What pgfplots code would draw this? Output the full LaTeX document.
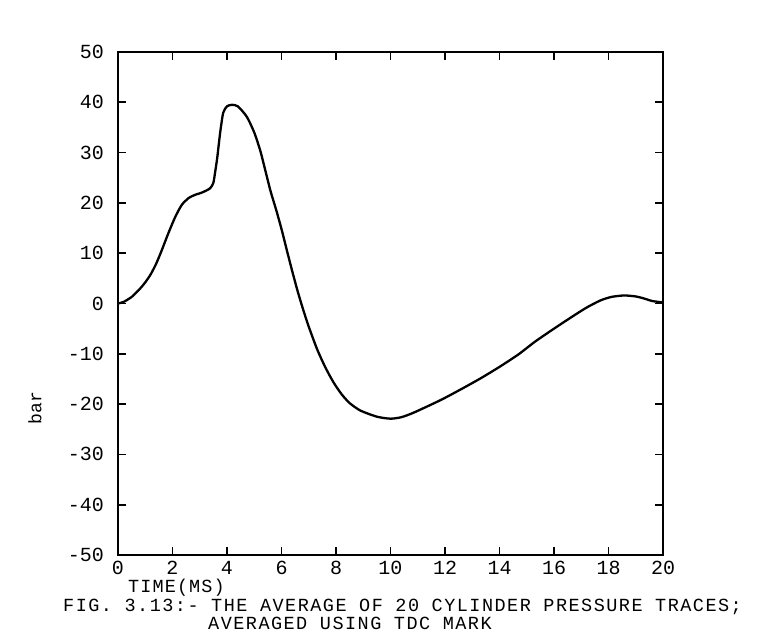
\documentclass[border=0pt]{standalone}
\usepackage{pgfplots}
\pgfplotsset{compat=1.18}
\usepackage{fontspec}
\setmainfont{Liberation Mono}
\begin{document}
\fontsize{20bp}{24bp}\selectfont
\begin{tikzpicture}
\useasboundingbox (-118bp,-78bp) rectangle (643bp,555bp);
\begin{axis}[
  at={(0,0)}, anchor=south west,
  scale only axis, width=545bp, height=503bp,
  xmin=0, xmax=20, ymin=-50, ymax=50,
  xtick={0,2,...,20}, ytick={-50,-40,...,50},
  tick align=inside, major tick length=8bp,
  axis line style={line width=1.8bp},
  every tick/.style={line width=1.8bp, black},
  /pgf/number format/assume math mode=true,
  tick label style={font=\fontsize{20bp}{24bp}\selectfont},
  yticklabel style={inner sep=0pt, anchor=east, xshift=-14bp},
  xticklabel style={inner sep=0pt, anchor=north, yshift=-6bp},
]
\addplot[black, line width=2.3bp, smooth, tension=0.4] coordinates {
(0,0) (0.2,0.3) (0.5,1.3) (0.8,2.9) (1.0,4.2) (1.2,5.8) (1.4,7.9)
(1.6,10.5) (1.85,14.0) (2.1,17.2) (2.34,19.6) (2.6,21.0) (2.83,21.6)
(3.1,22.1) (3.38,22.9) (3.5,24.0) (3.57,26.3) (3.64,28.9) (3.75,34)
(3.86,37.9) (4.0,39.2) (4.18,39.5) (4.4,39.2) (4.73,37.1) (5.0,34.0)
(5.22,30.4) (5.4,26.6) (5.6,22.3) (5.8,18.7) (6.0,14.8) (6.2,10.5)
(6.4,6.3) (6.6,2.3) (6.8,-1.3) (7.0,-4.6) (7.3,-9.0) (7.6,-12.6)
(7.9,-15.6) (8.2,-18.0) (8.5,-19.8) (8.9,-21.3) (9.5,-22.5) (10.0,-22.9)
(10.4,-22.6) (10.85,-21.7) (11.84,-19.2) (12.57,-17.1) (13.3,-14.9)
(14.0,-12.6) (14.7,-10.1) (15.3,-7.6) (16.0,-5.0) (16.7,-2.5)
(17.2,-0.8) (17.7,0.6) (18.1,1.3) (18.57,1.6) (19.0,1.4) (19.3,1.0)
(19.6,0.5) (20,0.2)
};
\end{axis}
\node[rotate=90, inner sep=0pt, font=\fontsize{18bp}{20bp}\selectfont] at (-83bp,147bp) {bar};
\node[anchor=base west, inner sep=0pt, font=\fontsize{18.5bp}{20bp}\selectfont\addfontfeature{LetterSpace=6}] at (10bp,-37.5bp) {TIME(MS)};
\node[anchor=base west, inner sep=0pt, font=\fontsize{18.5bp}{20bp}\selectfont\addfontfeature{LetterSpace=8}] at (-55bp,-56.5bp) {FIG. 3.13:- THE AVERAGE OF 20 CYLINDER PRESSURE TRACES;};
\node[anchor=base west, inner sep=0pt, font=\fontsize{18.5bp}{20bp}\selectfont\addfontfeature{LetterSpace=8}] at (90bp,-74.5bp) {AVERAGED USING TDC MARK};
\end{tikzpicture}
\end{document}
